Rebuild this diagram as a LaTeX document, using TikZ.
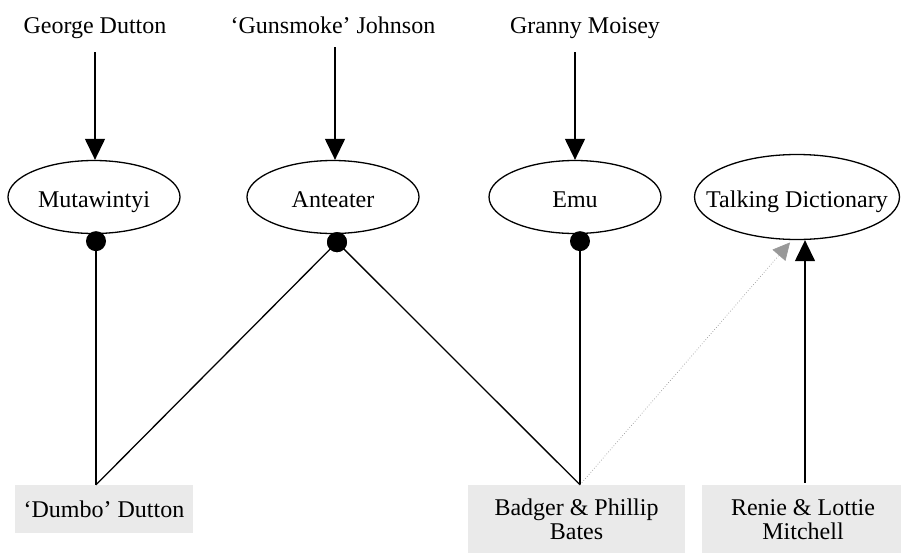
\documentclass[tikz,border=0pt]{standalone}
\usepackage{fontspec}
\setmainfont{Liberation Serif}
\usetikzlibrary{shapes.geometric,arrows.meta}
\definecolor{boxgray}{HTML}{EAEAEA}
\definecolor{hintgray}{HTML}{999999}
\newcommand{\twoline}[2]{\raisebox{-4pt}[\height][\depth]{\begin{tabular}{@{}c@{}}#1\\[0pt]#2\end{tabular}}}
\begin{document}
\begin{tikzpicture}[x=1pt,y=-1pt,
  font=\fontsize{24}{24}\selectfont,
  ell/.style={draw, ellipse, line width=1.3pt, inner sep=0pt, minimum width=172pt, minimum height=73pt, text height=22pt, text depth=2pt},
  boxnode/.style={fill=boxgray, inner sep=0pt, align=center},
  lbl/.style={inner sep=0pt, anchor=base},
  dotnode/.style={circle, fill=black, inner sep=0pt, minimum size=20pt},
  arr/.style={line width=1.3pt, -{Triangle[length=21pt,width=20pt]}},
  link/.style={line width=1.3pt},
  hint/.style={draw=hintgray, dotted, line width=0.7pt, -{Triangle[length=17pt,width=17pt,fill=hintgray]}}
]
\useasboundingbox (0,0) rectangle (901,554);

% top labels
\node[lbl] (gd) at (95,33) {George Dutton};
\node[lbl] (gj) at (333,33) {‘Gunsmoke’ Johnson};
\node[lbl] (gm) at (585,33) {Granny Moisey};

% ellipses
\node[ell] (mut) at (94,197) {\makebox[0pt]{Mutawintyi}};
\node[ell] (ant) at (333,197) {\makebox[0pt]{Anteater}};
\node[ell] (emu) at (575,197) {\makebox[0pt]{Emu}};
\node[ell, minimum width=205pt, minimum height=85pt] (td) at (797,197) {\makebox[0pt]{Talking Dictionary}};

% dots
\node[dotnode] (dmut) at ([xshift=2pt,yshift=-7pt]mut.south) {};
\node[dotnode] (dant) at ([xshift=4pt,yshift=-8pt]ant.south) {};
\node[dotnode] (demu) at ([xshift=5pt,yshift=-7pt]emu.south) {};

% boxes
\node[boxnode, minimum width=178pt, minimum height=48pt] (dum) at (104,509) {‘Dumbo’ Dutton};
\node[boxnode, minimum width=217pt, minimum height=68pt] (bad) at (576.5,519) {\twoline{Badger \& Phillip}{Bates}};
\node[boxnode, minimum width=199pt, minimum height=68pt] (ren) at (801.5,519) {\hspace*{3pt}\twoline{Renie \& Lottie}{Mitchell}};

\coordinate (dumtop) at ([xshift=-8pt]dum.north);
\coordinate (badtop) at ([xshift=3.5pt]bad.north);
\coordinate (rentop) at ([xshift=3.5pt,yshift=2pt]ren.north);

% top arrows
\draw[arr, shorten <=14pt] (gd.south) -- (gd.south |- mut.north);
\draw[arr, shorten <=14pt] ([xshift=2pt]gj.south) -- ([xshift=2pt]gj.south |- ant.north);
\draw[arr, shorten <=14pt] (gm.south -| emu.north) -- (emu.north);

% links
\draw[link] (dmut.center) -- (dumtop);
\draw[link] (dant.center) -- (dumtop);
\draw[link] (dant.center) -- (badtop);
\draw[link] (demu.center) -- (badtop);
\node[dotnode] at (dant) {};

% to Talking Dictionary
\draw[hint, shorten >=3pt] (badtop) -- ([xshift=-5pt]td.south);
\draw[arr] (rentop) -- ([xshift=8pt]td.south);
\end{tikzpicture}
\end{document}
